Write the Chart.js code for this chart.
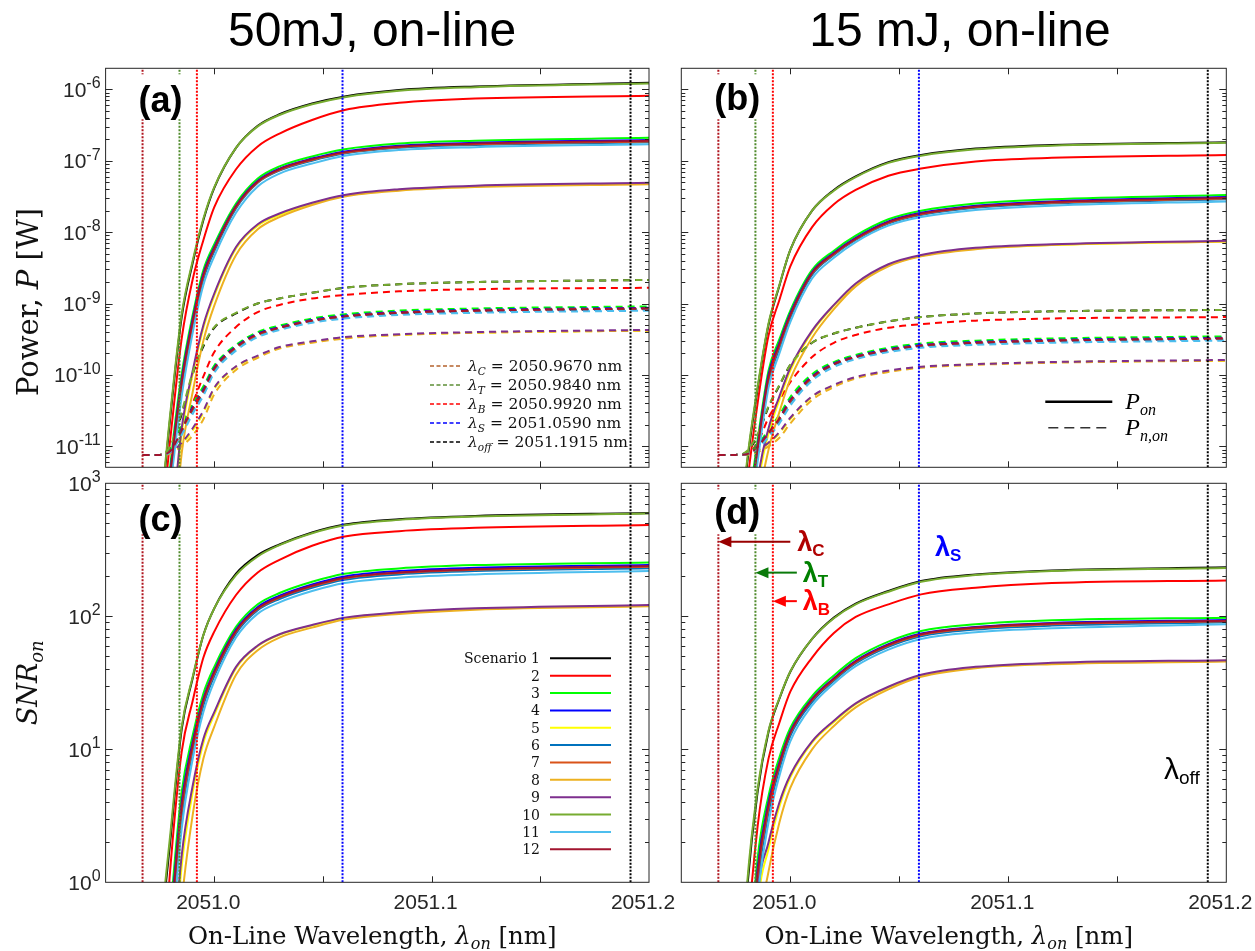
<!DOCTYPE html>
<html>
<head>
<meta charset="utf-8">
<title>On-line power and SNR</title>
<script src="https://cdn.jsdelivr.net/npm/chart.js@4.4.1/dist/chart.umd.min.js"></script>
<style>
  html, body { margin: 0; padding: 0; background: #fff; }
  #wrap { position: relative; width: 1255px; height: 951px; overflow: hidden; background: #fff; }
  #wrap canvas { position: absolute; left: 0; top: 0; }
</style>
</head>
<body>
<div id="wrap">
  <canvas id="panelA" width="1255" height="951"></canvas>
  <canvas id="panelB" width="1255" height="951"></canvas>
  <canvas id="panelC" width="1255" height="951"></canvas>
  <canvas id="panelD" width="1255" height="951"></canvas>
</div>
<script>
// ---- data ----
// on-line wavelength samples [nm]
const wavelengths = [2050.967, 2050.975, 2050.980, 2050.985, 2050.990, 2050.995, 2051.000,
  2051.010, 2051.020, 2051.030, 2051.045, 2051.060, 2051.085, 2051.120, 2051.200];

const scenarioNames = ['Scenario 1', '2', '3', '4', '5', '6', '7', '8', '9', '10', '11', '12'];
const scenarioColors = ['#000000', '#ff0000', '#00ff00', '#0000ff', '#ffff00', '#0072bd',
  '#d95319', '#edb120', '#7e2f8e', '#77ac30', '#4dbeee', '#a2142f'];

// log10 of on-line power P_on [W], 50 mJ (one row per scenario)
const logPowerOn50 = [
  [-13.5, -12.0, -10.52, -9.19, -8.44, -7.83, -7.38, -6.82, -6.51, -6.35, -6.20, -6.10, -6.01, -5.96, -5.91],
  [-14, -12.3, -10.83, -9.49, -8.67, -8.11, -7.65, -7.12, -6.80, -6.62, -6.43, -6.29, -6.19, -6.13, -6.09],
  [-14.4, -12.9, -11.2, -9.99, -9.17, -8.53, -8.17, -7.60, -7.25, -7.08, -6.94, -6.84, -6.76, -6.72, -6.68],
  [-14.5, -13.0, -11.3, -10.07, -9.23, -8.58, -8.21, -7.63, -7.28, -7.11, -6.97, -6.87, -6.79, -6.75, -6.71],
  [-15, -14, -12.4, -10.82, -10.0, -9.34, -8.89, -8.23, -7.91, -7.76, -7.6, -7.49, -7.41, -7.36, -7.32],
  [-14.6, -13.2, -11.45, -10.2, -9.33, -8.66, -8.27, -7.67, -7.31, -7.14, -7.0, -6.9, -6.82, -6.78, -6.74],
  [-14.5, -13.1, -11.37, -10.14, -9.29, -8.62, -8.24, -7.65, -7.3, -7.13, -6.99, -6.89, -6.81, -6.77, -6.73],
  [-15, -14.2, -12.8, -11.1, -10.25, -9.52, -9.03, -8.32, -7.96, -7.79, -7.62, -7.5, -7.42, -7.37, -7.33],
  [-15, -14, -12.3, -10.75, -9.95, -9.30, -8.86, -8.21, -7.89, -7.74, -7.59, -7.48, -7.40, -7.35, -7.31],
  [-13.5, -11.95, -10.47, -9.15, -8.41, -7.81, -7.37, -6.82, -6.52, -6.36, -6.21, -6.11, -6.02, -5.97, -5.92],
  [-14.7, -13.3, -11.55, -10.3, -9.42, -8.74, -8.34, -7.73, -7.36, -7.18, -7.04, -6.93, -6.85, -6.81, -6.77],
  [-14.5, -13.0, -11.33, -10.1, -9.26, -8.6, -8.23, -7.64, -7.29, -7.12, -6.98, -6.88, -6.8, -6.76, -6.72]
];

// log10 of on-line noise power P_n,on [W], 50 mJ
const logNoisePower50 = [
  [-11.12, -11.12, -11.0, -10.55, -10.0, -9.6, -9.34, -9.14, -9.0, -8.93, -8.85, -8.78, -8.73, -8.70, -8.67],
  [-11.12, -11.12, -11.05, -10.78, -10.4, -10.02, -9.68, -9.33, -9.12, -9.02, -8.93, -8.88, -8.83, -8.80, -8.78],
  [-11.12, -11.12, -11.04, -10.7, -10.41, -10.16, -9.87, -9.58, -9.4, -9.31, -9.21, -9.15, -9.1, -9.07, -9.04],
  [-11.12, -11.12, -11.05, -10.75, -10.45, -10.2, -9.9, -9.6, -9.42, -9.33, -9.23, -9.17, -9.12, -9.09, -9.06],
  [-11.12, -11.12, -11.09, -10.97, -10.78, -10.53, -10.2, -9.89, -9.74, -9.62, -9.54, -9.48, -9.44, -9.41, -9.38],
  [-11.12, -11.12, -11.07, -10.8, -10.5, -10.25, -9.94, -9.63, -9.45, -9.35, -9.25, -9.19, -9.14, -9.11, -9.08],
  [-11.12, -11.12, -11.06, -10.78, -10.48, -10.23, -9.92, -9.62, -9.44, -9.34, -9.24, -9.18, -9.13, -9.1, -9.07],
  [-11.12, -11.12, -11.1, -11.0, -10.85, -10.62, -10.27, -9.93, -9.76, -9.63, -9.55, -9.49, -9.44, -9.41, -9.38],
  [-11.12, -11.12, -11.08, -10.95, -10.75, -10.5, -10.18, -9.88, -9.73, -9.61, -9.53, -9.47, -9.43, -9.4, -9.37],
  [-11.12, -11.12, -10.98, -10.52, -9.97, -9.58, -9.33, -9.13, -9.0, -8.93, -8.85, -8.78, -8.73, -8.70, -8.67],
  [-11.12, -11.12, -11.08, -10.84, -10.55, -10.29, -9.97, -9.66, -9.47, -9.37, -9.27, -9.21, -9.16, -9.13, -9.1],
  [-11.12, -11.12, -11.06, -10.77, -10.47, -10.22, -9.91, -9.61, -9.43, -9.34, -9.24, -9.18, -9.13, -9.1, -9.07]
];

// log10 of P_on [W], 15 mJ
const logPowerOn15 = [
  [-15, -13.0, -11.3, -10.2, -9.3, -8.75, -8.25, -7.70, -7.41, -7.22, -7.02, -6.92, -6.83, -6.78, -6.74],
  [-15, -13.3, -11.6, -10.4, -9.45, -8.95, -8.48, -7.93, -7.61, -7.41, -7.21, -7.11, -7.01, -6.96, -6.92],
  [-15.4, -13.9, -12.1, -10.92, -9.94, -9.5, -9.1, -8.53, -8.26, -8.05, -7.82, -7.7, -7.6, -7.54, -7.48],
  [-15.5, -14, -12.2, -11.0, -10.0, -9.55, -9.14, -8.56, -8.29, -8.08, -7.85, -7.73, -7.63, -7.57, -7.51],
  [-16, -15, -13.3, -11.6, -10.82, -10.35, -9.94, -9.40, -9.03, -8.73, -8.46, -8.33, -8.23, -8.18, -8.13],
  [-15.6, -14.2, -12.35, -11.13, -10.1, -9.63, -9.2, -8.60, -8.32, -8.11, -7.88, -7.76, -7.66, -7.6, -7.54],
  [-15.5, -14.1, -12.27, -11.07, -10.06, -9.59, -9.17, -8.58, -8.31, -8.1, -7.87, -7.75, -7.65, -7.59, -7.53],
  [-16, -15.2, -13.6, -11.9, -11.05, -10.52, -10.06, -9.48, -9.08, -8.76, -8.48, -8.34, -8.24, -8.18, -8.13],
  [-16, -15, -13.2, -11.5, -10.75, -10.3, -9.9, -9.38, -9.02, -8.72, -8.45, -8.32, -8.22, -8.17, -8.12],
  [-15, -12.95, -11.25, -10.17, -9.28, -8.74, -8.25, -7.70, -7.42, -7.23, -7.03, -6.93, -6.84, -6.79, -6.75],
  [-15.7, -14.3, -12.45, -11.22, -10.18, -9.7, -9.26, -8.65, -8.36, -8.14, -7.91, -7.79, -7.69, -7.63, -7.57],
  [-15.5, -14, -12.23, -11.03, -10.03, -9.57, -9.16, -8.57, -8.30, -8.09, -7.86, -7.74, -7.64, -7.58, -7.52]
];

// log10 of P_n,on [W], 15 mJ
const logNoisePower15 = [
  [-11.12, -11.12, -11.08, -10.85, -10.45, -10.15, -9.86, -9.55, -9.42, -9.34, -9.25, -9.19, -9.14, -9.11, -9.09],
  [-11.12, -11.12, -11.1, -10.95, -10.6, -10.35, -10.1, -9.75, -9.55, -9.44, -9.34, -9.29, -9.24, -9.21, -9.19],
  [-11.12, -11.12, -11.1, -10.98, -10.77, -10.56, -10.31, -9.99, -9.82, -9.72, -9.62, -9.56, -9.52, -9.49, -9.46],
  [-11.12, -11.12, -11.11, -11.0, -10.8, -10.6, -10.35, -10.02, -9.84, -9.74, -9.64, -9.58, -9.54, -9.51, -9.48],
  [-11.12, -11.12, -11.11, -11.06, -10.96, -10.82, -10.62, -10.31, -10.15, -10.04, -9.95, -9.89, -9.85, -9.82, -9.8],
  [-11.12, -11.12, -11.11, -11.02, -10.84, -10.64, -10.39, -10.05, -9.86, -9.76, -9.66, -9.6, -9.56, -9.53, -9.5],
  [-11.12, -11.12, -11.11, -11.01, -10.82, -10.62, -10.37, -10.04, -9.85, -9.75, -9.65, -9.59, -9.55, -9.52, -9.49],
  [-11.12, -11.12, -11.12, -11.08, -11.0, -10.88, -10.68, -10.35, -10.17, -10.05, -9.96, -9.9, -9.86, -9.83, -9.8],
  [-11.12, -11.12, -11.11, -11.05, -10.95, -10.8, -10.6, -10.3, -10.14, -10.03, -9.94, -9.885, -9.85, -9.82, -9.79],
  [-11.12, -11.12, -11.07, -10.83, -10.44, -10.14, -9.86, -9.55, -9.42, -9.34, -9.25, -9.19, -9.14, -9.11, -9.09],
  [-11.12, -11.12, -11.11, -11.04, -10.87, -10.68, -10.43, -10.08, -9.89, -9.78, -9.68, -9.62, -9.58, -9.55, -9.52],
  [-11.12, -11.12, -11.11, -11.01, -10.81, -10.61, -10.36, -10.03, -9.85, -9.75, -9.65, -9.59, -9.55, -9.52, -9.49]
];

// log10 of SNR_on, 50 mJ
const logSnr50 = [
  [-2.5, -0.5, 0.35, 1.15, 1.53, 1.86, 2.06, 2.32, 2.46, 2.54, 2.63, 2.69, 2.73, 2.755, 2.777],
  [-3, -1.0, 0.15, 0.98, 1.36, 1.69, 1.885, 2.16, 2.33, 2.425, 2.53, 2.60, 2.64, 2.665, 2.686],
  [-3.4, -1.4, -0.2, 0.68, 1.1, 1.42, 1.62, 1.92, 2.09, 2.175, 2.26, 2.32, 2.36, 2.385, 2.405],
  [-3.5, -1.5, -0.3, 0.6, 1.05, 1.38, 1.59, 1.90, 2.07, 2.155, 2.24, 2.30, 2.34, 2.365, 2.386],
  [-4, -2.1, -0.9, 0.12, 0.67, 1.05, 1.26, 1.61, 1.775, 1.86, 1.93, 1.985, 2.025, 2.055, 2.08],
  [-3.6, -1.6, -0.42, 0.49, 0.98, 1.33, 1.55, 1.87, 2.045, 2.13, 2.215, 2.275, 2.315, 2.34, 2.362],
  [-3.5, -1.55, -0.36, 0.54, 1.01, 1.36, 1.57, 1.885, 2.055, 2.14, 2.225, 2.285, 2.325, 2.35, 2.372],
  [-4, -2.4, -1.2, -0.15, 0.5, 0.93, 1.17, 1.56, 1.745, 1.84, 1.915, 1.975, 2.018, 2.05, 2.075],
  [-4, -2, -0.8, 0.2, 0.72, 1.08, 1.28, 1.62, 1.78, 1.865, 1.935, 1.99, 2.03, 2.06, 2.085],
  [-2.5, -0.45, 0.4, 1.17, 1.54, 1.86, 2.06, 2.31, 2.45, 2.535, 2.625, 2.685, 2.725, 2.75, 2.772],
  [-3.7, -1.7, -0.55, 0.4, 0.92, 1.28, 1.51, 1.84, 2.02, 2.105, 2.19, 2.25, 2.29, 2.315, 2.34],
  [-3.5, -1.5, -0.33, 0.57, 1.03, 1.37, 1.58, 1.89, 2.06, 2.145, 2.23, 2.29, 2.33, 2.355, 2.378]
];

// log10 of SNR_on, 15 mJ
const logSnr15 = [
  [-3.5, -1.5, -0.1, 0.68, 1.13, 1.38, 1.583, 1.83, 1.99, 2.095, 2.19, 2.265, 2.315, 2.345, 2.368],
  [-4, -2, -0.5, 0.42, 0.93, 1.2, 1.433, 1.69, 1.875, 1.995, 2.09, 2.165, 2.215, 2.25, 2.27],
  [-4.4, -2.4, -0.9, 0.18, 0.65, 0.94, 1.16, 1.40, 1.555, 1.685, 1.81, 1.89, 1.94, 1.97, 1.99],
  [-4.5, -2.5, -1.0, 0.1, 0.6, 0.9, 1.133, 1.38, 1.535, 1.665, 1.79, 1.87, 1.92, 1.95, 1.972],
  [-5, -3.1, -1.6, -0.18, 0.25, 0.57, 0.79, 1.05, 1.205, 1.34, 1.465, 1.555, 1.615, 1.645, 1.665],
  [-4.6, -2.6, -1.12, -0.02, 0.52, 0.85, 1.1, 1.355, 1.515, 1.645, 1.77, 1.85, 1.9, 1.93, 1.955],
  [-4.5, -2.55, -1.06, 0.04, 0.56, 0.88, 1.12, 1.37, 1.525, 1.655, 1.78, 1.86, 1.91, 1.94, 1.962],
  [-5, -3.4, -1.9, -0.45, 0.08, 0.45, 0.71, 1.0, 1.175, 1.315, 1.45, 1.545, 1.61, 1.64, 1.66],
  [-5, -3, -1.5, -0.1, 0.3, 0.6, 0.807, 1.06, 1.215, 1.345, 1.47, 1.56, 1.62, 1.65, 1.67],
  [-3.5, -1.45, -0.05, 0.7, 1.14, 1.385, 1.585, 1.83, 1.985, 2.09, 2.185, 2.26, 2.31, 2.34, 2.363],
  [-4.7, -2.7, -1.25, -0.12, 0.45, 0.8, 1.06, 1.33, 1.495, 1.625, 1.75, 1.83, 1.88, 1.91, 1.94],
  [-4.5, -2.5, -1.03, 0.07, 0.58, 0.89, 1.125, 1.375, 1.53, 1.66, 1.785, 1.865, 1.915, 1.945, 1.966]
];

// marker wavelengths [nm]
const lambdaNames = ['C', 'T', 'B', 'S', 'off'];
const lambdaValues = [2050.9670, 2050.9840, 2050.9920, 2051.0590, 2051.1915];
const lambdaLineColors = ['#b0141e', '#4f8a2b', '#ff0000', '#0000ff', '#000000'];
const lambdaLegendColors = ['#b4622c', '#5d8f36', '#ff0000', '#0000ff', '#000000'];

// axes
const xRange = [2050.95, 2051.2];
const xTickValues = [2051.0, 2051.05, 2051.1, 2051.15];
const xLabelValues = [2051.0, 2051.1, 2051.2];
const xTickLabels = ['2051.0', '2051.1', '2051.2'];
const powerRangeExp = [-11.294, -5.706];
const powerTickExponents = [-11, -10, -9, -8, -7, -6];
const snrRangeExp = [0, 3];
const snrTickExponents = [0, 1, 2, 3];

// ---- drawing ----
const W = 1255, H = 951;
const SANS = '"Liberation Sans", Arial, sans-serif';
const SERIF = '"DejaVu Serif", serif';
const TIMES = '"Liberation Serif", "Times New Roman", serif';
const INK = '#262626';

function richText(ctx, x, y, parts, align) {
  let w = 0;
  parts.forEach(p => { ctx.font = p.font; w += ctx.measureText(p.text).width; });
  let cx = align === 'center' ? x - w / 2 : (align === 'right' ? x - w : x);
  parts.forEach(p => {
    ctx.font = p.font;
    ctx.fillText(p.text, cx, y + (p.dy || 0));
    cx += ctx.measureText(p.text).width;
  });
  return w;
}

function drawPow10(ctx, xRight, y, exp) {
  const sup = String(exp);
  ctx.font = '16px ' + SANS;
  const ws = ctx.measureText(sup).width;
  ctx.font = '21px ' + SANS;
  const wb = ctx.measureText('10').width;
  ctx.fillStyle = INK;
  ctx.fillText('10', xRight - ws - wb, y + 7.5);
  ctx.font = '16px ' + SANS;
  ctx.fillText(sup, xRight - ws, y - 1);
}

function arrowLeft(ctx, x0, x1, y, color) {
  ctx.strokeStyle = color; ctx.fillStyle = color; ctx.lineWidth = 2;
  ctx.beginPath(); ctx.moveTo(x0, y); ctx.lineTo(x1 + 12, y); ctx.stroke();
  ctx.beginPath(); ctx.moveTo(x1, y); ctx.lineTo(x1 + 13, y - 5.5); ctx.lineTo(x1 + 13, y + 5.5);
  ctx.closePath(); ctx.fill();
}

const panelDeco = {
  id: 'panelDeco',
  afterDraw(chart, args, o) {
    const ctx = chart.ctx, a = chart.chartArea;
    const xs = chart.scales.x, ys = chart.scales.y;
    ctx.save();
    ctx.textAlign = 'left';
    ctx.textBaseline = 'alphabetic';

    // panel tag, on a white box over the marker lines
    ctx.fillStyle = '#fff';
    ctx.fillRect(a.left + 31, a.top + 6, 55, 45);
    ctx.fillStyle = '#000';
    ctx.font = 'bold 36px ' + SANS;
    ctx.textBaseline = 'middle';
    ctx.fillText(o.tag, a.left + 33, a.top + o.tagY);
    ctx.textBaseline = 'alphabetic';

    // frame and inward ticks on all sides
    ctx.strokeStyle = INK; ctx.lineWidth = 1;
    ctx.strokeRect(a.left, a.top, a.right - a.left, a.bottom - a.top);
    ctx.beginPath();
    xTickValues.forEach(v => {
      const px = Math.round(xs.getPixelForValue(v)) + 0.5;
      ctx.moveTo(px, a.bottom); ctx.lineTo(px, a.bottom - 6);
      ctx.moveTo(px, a.top); ctx.lineTo(px, a.top + 6);
    });
    const e0 = Math.floor(Math.log10(ys.min)), e1 = Math.ceil(Math.log10(ys.max));
    for (let e = e0; e <= e1; e++) {
      for (let k = 1; k < 10; k++) {
        const v = k * Math.pow(10, e);
        if (v <= ys.min * 1.0001 || v >= ys.max * 0.9999) continue;
        const py = Math.round(ys.getPixelForValue(v)) + 0.5;
        const len = k === 1 ? 7 : 4;
        ctx.moveTo(a.left, py); ctx.lineTo(a.left + len, py);
        ctx.moveTo(a.right, py); ctx.lineTo(a.right - len, py);
      }
    }
    ctx.stroke();

    // tick labels
    if (o.yExps) {
      o.yExps.forEach(e => drawPow10(ctx, a.left - 5, ys.getPixelForValue(Math.pow(10, e)), e));
    }
    if (o.xLabels) {
      ctx.fillStyle = INK;
      ctx.font = '21px ' + SANS;
      ctx.textAlign = 'center';
      xLabelValues.forEach((v, i) => ctx.fillText(xTickLabels[i], xs.getPixelForValue(v) - 6, a.bottom + 27));
      ctx.textAlign = 'left';
      // axis title
      ctx.fillStyle = '#111';
      richText(ctx, (a.left + a.right) / 2 - 5, 944, [
        { text: 'On-Line Wavelength, ', font: '24.5px ' + SERIF },
        { text: 'λ', font: 'italic 24.5px ' + SERIF },
        { text: 'on', font: 'italic 16px ' + SERIF, dy: 5 },
        { text: ' [nm]', font: '24.5px ' + SERIF }
      ], 'center');
    }

    // column title
    if (o.title) {
      ctx.fillStyle = '#000';
      ctx.font = '48px ' + SANS;
      ctx.textAlign = 'center';
      ctx.fillText(o.title, o.titleX, 46);
      ctx.textAlign = 'left';
    }

    // y axis titles
    if (o.yTitle) {
      ctx.save();
      ctx.fillStyle = '#111';
      if (o.yTitle === 'power') {
        ctx.translate(28, 302);
        ctx.rotate(-Math.PI / 2);
        richText(ctx, 0, 10, [
          { text: 'Power, ', font: '29px ' + SERIF },
          { text: 'P', font: 'italic 29px ' + SERIF },
          { text: ' [W]', font: '29px ' + SERIF }
        ], 'center');
      } else {
        ctx.translate(27, (a.top + a.bottom) / 2);
        ctx.rotate(-Math.PI / 2);
        richText(ctx, 0, 10, [
          { text: 'SNR', font: 'italic 27px ' + SERIF },
          { text: 'on', font: 'italic 18px ' + SERIF, dy: 6 }
        ], 'center');
      }
      ctx.restore();
    }

    // legends
    if (o.legend === 'lambda') {
      lambdaNames.forEach((n, i) => {
        const y = a.bottom - 101.3 + 19 * i;
        ctx.strokeStyle = lambdaLegendColors[i]; ctx.lineWidth = 1.5;
        ctx.setLineDash([4, 2.5]);
        ctx.beginPath(); ctx.moveTo(a.right - 219, y); ctx.lineTo(a.right - 189, y); ctx.stroke();
        ctx.setLineDash([]);
        ctx.fillStyle = '#111';
        richText(ctx, a.right - 181, y + 5, [
          { text: 'λ', font: 'italic 15.5px ' + SERIF },
          { text: n, font: 'italic 10.5px ' + SERIF, dy: 4 },
          { text: ' = ' + lambdaValues[i].toFixed(4) + ' nm', font: '15.5px ' + SERIF }
        ], 'left');
      });
    }
    if (o.legend === 'scenario') {
      scenarioNames.forEach((n, i) => {
        const y = a.top + 175 + 17.36 * i;
        ctx.strokeStyle = scenarioColors[i]; ctx.lineWidth = 2;
        ctx.beginPath(); ctx.moveTo(a.right - 99, y); ctx.lineTo(a.right - 38, y); ctx.stroke();
        ctx.fillStyle = '#111';
        ctx.font = '14px ' + SERIF;
        ctx.textAlign = 'right';
        ctx.fillText(n, a.right - 109, y + 5);
        ctx.textAlign = 'left';
      });
    }
    if (o.legend === 'power') {
      ctx.strokeStyle = '#000'; ctx.lineWidth = 2.5;
      ctx.beginPath(); ctx.moveTo(a.right - 181, a.bottom - 65.6); ctx.lineTo(a.right - 114, a.bottom - 65.6); ctx.stroke();
      ctx.lineWidth = 1.5; ctx.strokeStyle = '#333';
      ctx.setLineDash([10, 6]);
      ctx.beginPath(); ctx.moveTo(a.right - 178, a.bottom - 39.6); ctx.lineTo(a.right - 114, a.bottom - 39.6); ctx.stroke();
      ctx.setLineDash([]);
      ctx.fillStyle = '#000';
      richText(ctx, a.right - 101, a.bottom - 58, [
        { text: 'P', font: 'italic 24px ' + TIMES },
        { text: 'on', font: 'italic 16px ' + TIMES, dy: 6 }
      ], 'left');
      richText(ctx, a.right - 101, a.bottom - 32, [
        { text: 'P', font: 'italic 24px ' + TIMES },
        { text: 'n,on', font: 'italic 16px ' + TIMES, dy: 6 }
      ], 'left');
    }

    // wavelength annotations on the 15 mJ SNR panel
    if (o.notes) {
      o.notes.forEach(nt => {
        const y = ys.getPixelForValue(nt.snr);
        const x = xs.getPixelForValue(nt.at) + nt.dx;
        if (nt.tip !== undefined) {
          arrowLeft(ctx, xs.getPixelForValue(nt.at), xs.getPixelForValue(nt.tip), y, nt.arrow);
        }
        ctx.fillStyle = nt.color;
        const w = nt.bold ? 'bold ' : '';
        richText(ctx, x, y + 9, [
          { text: 'λ', font: w + nt.size + 'px ' + SANS },
          { text: nt.sub, font: w + Math.round(nt.size * 0.64) + 'px ' + SANS, dy: 5 }
        ], nt.align || 'left');
      });
    }
    ctx.restore();
  }
};

function curve(row) {
  return row.map((e, i) => ({ x: wavelengths[i], y: Math.pow(10, e) }));
}

function scenarioSets(rows, dashed) {
  return rows.map((row, i) => ({
    data: curve(row),
    borderColor: scenarioColors[i],
    borderWidth: 2,
    borderDash: dashed ? [7, 5] : [],
    pointRadius: 0,
    cubicInterpolationMode: 'monotone',
    order: 100 - i
  }));
}

function markerSets(yExp) {
  return lambdaValues.map((v, i) => ({
    data: [{ x: v, y: Math.pow(10, yExp[0]) }, { x: v, y: Math.pow(10, yExp[1]) }],
    borderColor: lambdaLineColors[i],
    borderWidth: 2,
    borderDash: [2, 1.5],
    pointRadius: 0,
    order: 0
  }));
}

function makePanel(id, area, yExp, datasets, deco) {
  return new Chart(document.getElementById(id), {
    type: 'line',
    data: { datasets: datasets },
    options: {
      responsive: false,
      animation: false,
      events: [],
      layout: { padding: { left: area[0], top: area[1], right: W - area[2], bottom: H - area[3] } },
      scales: {
        x: { type: 'linear', display: false, min: xRange[0], max: xRange[1] },
        y: { type: 'logarithmic', display: false, min: Math.pow(10, yExp[0]), max: Math.pow(10, yExp[1]) }
      },
      plugins: {
        legend: { display: false },
        tooltip: { enabled: false },
        panelDeco: deco
      }
    },
    plugins: [panelDeco]
  });
}

const areaA = [105.6, 68.3, 649, 467.3];
const areaB = [681.3, 68.3, 1226.3, 467.3];
const areaC = [105.6, 483.3, 649, 882.3];
const areaD = [681.3, 483.3, 1226.3, 882.3];

makePanel('panelA', areaA, powerRangeExp,
  scenarioSets(logPowerOn50, false).concat(scenarioSets(logNoisePower50, true), markerSets(powerRangeExp)),
  { tag: '(a)', tagY: 34, yExps: powerTickExponents, legend: 'lambda', title: '50mJ, on-line', titleX: 372, yTitle: 'power' });

makePanel('panelB', areaB, powerRangeExp,
  scenarioSets(logPowerOn15, false).concat(scenarioSets(logNoisePower15, true), markerSets(powerRangeExp)),
  { tag: '(b)', tagY: 32, legend: 'power', title: '15 mJ, on-line', titleX: 960 });

makePanel('panelC', areaC, snrRangeExp,
  scenarioSets(logSnr50, false).concat(markerSets(snrRangeExp)),
  { tag: '(c)', tagY: 38, yExps: snrTickExponents, xLabels: true, legend: 'scenario', yTitle: 'snr' });

makePanel('panelD', areaD, snrRangeExp,
  scenarioSets(logSnr15, false).concat(markerSets(snrRangeExp)),
  { tag: '(d)', tagY: 31, xLabels: true, notes: [
    { sub: 'C', color: '#b00000', arrow: '#990000', at: 2051.0, tip: lambdaValues[0], dx: 7, snr: 364, bold: true, size: 27 },
    { sub: 'T', color: '#008000', arrow: '#0a7a0a', at: 2051.003, tip: lambdaValues[1], dx: 6, snr: 213, bold: true, size: 27 },
    { sub: 'B', color: '#ff0000', arrow: '#ff0000', at: 2051.003, tip: lambdaValues[2], dx: 6, snr: 130, bold: true, size: 27 },
    { sub: 'S', color: '#0000ff', at: lambdaValues[3], dx: 16, snr: 332, bold: true, size: 27 },
    { sub: 'off', color: '#000000', at: lambdaValues[4], dx: -8, snr: 7, bold: false, align: 'right', size: 30 }
  ] });
</script>
</body>
</html>
